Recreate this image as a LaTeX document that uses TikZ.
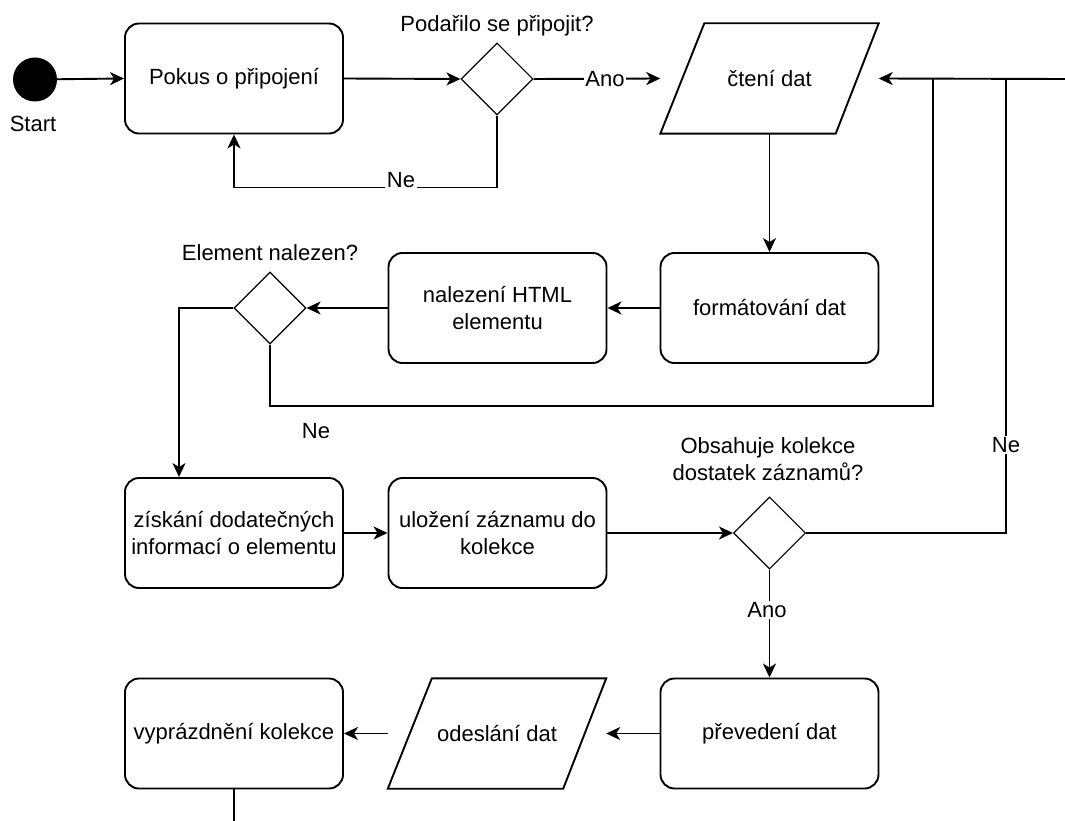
\documentclass[tikz,border=0pt]{standalone}
\usepackage{fontspec}
\setmainfont{Liberation Sans}
\usetikzlibrary{shapes.geometric,arrows.meta,calc}
\begin{document}
\begin{tikzpicture}[x=1pt,y=-1pt,
  font=\fontsize{22}{27}\selectfont,
  box/.style={draw, line width=1.9pt, rounded corners=14pt, minimum width=218pt, minimum height=110pt, inner sep=2pt, align=center},
  iobox/.style={minimum width=218pt, minimum height=110pt, inner sep=2pt, align=center},
  para/.style={draw, line width=1.9pt, line join=miter},
  dec/.style={draw, diamond, line width=1.1pt, minimum width=72pt, minimum height=72pt, inner sep=0pt},
  conn/.style={line width=1.9pt},
  arr/.style={conn, -{Stealth[length=14pt,width=13pt,inset=4pt]}},
  lbl/.style={fill=white, inner sep=1.5pt},
  txt/.style={inner sep=0pt, align=center}]
\useasboundingbox (0,0) rectangle (1065,821);

% junction / edge coordinates
\coordinate (j1) at (933,79);
\coordinate (j2) at (1006,79);
\coordinate (edgeR) at (1065,79);
\coordinate (edgeB) at (234,821);
\coordinate (loopy) at (0,406);

% nodes
\node[circle, fill=black, minimum size=44pt, inner sep=0pt] (start) at (35,79.5) {};
\node[txt] (startlbl) at (33,124) {Start};
\node[box] (pokus) at (234,78.5) {Pokus o připojení};
\node[dec] (d1) at (497,79) {};
\node[txt] (d1lbl) at (497,26) {Podařilo se připojit?};
\node[iobox] (cteni) at (769.5,78.5) {čtení dat};
\node[box] (format) at (769.5,308) {formátování dat};
\node[box] (nalez) at (497.5,308) {nalezení HTML\\elementu};
\node[dec] (d2) at (270,308) {};
\node[txt] (d2lbl) at (270,253) {Element nalezen?};
\node[box] (ziskani) at (234,533) {získání dodatečných\\informací o elementu};
\node[box] (ulozeni) at (497.5,533) {uložení záznamu do\\kolekce};
\node[dec] (d3) at (769.5,533) {};
\node[txt] (d3lbl) at (768,459) {Obsahuje kolekce\\dostatek záznamů?};
\node[box] (preved) at (769.5,733.5) {převedení dat};
\node[iobox] (odesl) at (497,733.5) {odeslání dat};
\node[box] (vyprazd) at (234,733.5) {vyprázdnění kolekce};

% parallelograms
\draw[para] ([xshift=44pt]cteni.north west) -- (cteni.north east) -- ([xshift=-43pt]cteni.south east) -- (cteni.south west) -- cycle;
\draw[para] ([xshift=44pt]odesl.north west) -- (odesl.north east) -- ([xshift=-43pt]odesl.south east) -- (odesl.south west) -- cycle;

% connectors
\draw[arr] (start) -- (pokus.west);
\draw[arr] (pokus.east) -- (d1.west);
\draw[arr] (d1.east) -- (cteni.west);
\draw[arr] (d1.south) -- ++(0,72) -| (pokus.south);
\draw[arr] (cteni.south) -- (format.north);
\draw[arr] (format.west) -- (nalez.east);
\draw[arr] (nalez.west) -- (d2.east);
\draw[arr] (d2.west) -| ([xshift=-55pt]ziskani.north);
\draw[conn] (d2.south) |- (j1 |- loopy) -- (j1);
\draw[arr] (edgeR) -- (cteni.east);
\draw[arr] (ziskani.east) -- (ulozeni.west);
\draw[arr] (ulozeni.east) -- (d3.west);
\draw[conn] (d3.east) -| (j2);
\draw[arr] (d3.south) -- (preved.north);
\draw[arr] (preved.west) -- (odesl.east);
\draw[arr] (odesl.west) -- (vyprazd.east);
\draw[conn] (vyprazd.south) -- (edgeB);

% edge labels
\node[lbl] (ano1) at (605,79) {Ano};
\node[lbl, anchor=base] (ne1) at (401,188) {Ne};
\node[txt] (ne2) at (316,431) {Ne};
\node[lbl] (ne3) at (1006,445) {Ne};
\node[lbl] (ano2) at (767,610) {Ano};
\end{tikzpicture}
\end{document}
